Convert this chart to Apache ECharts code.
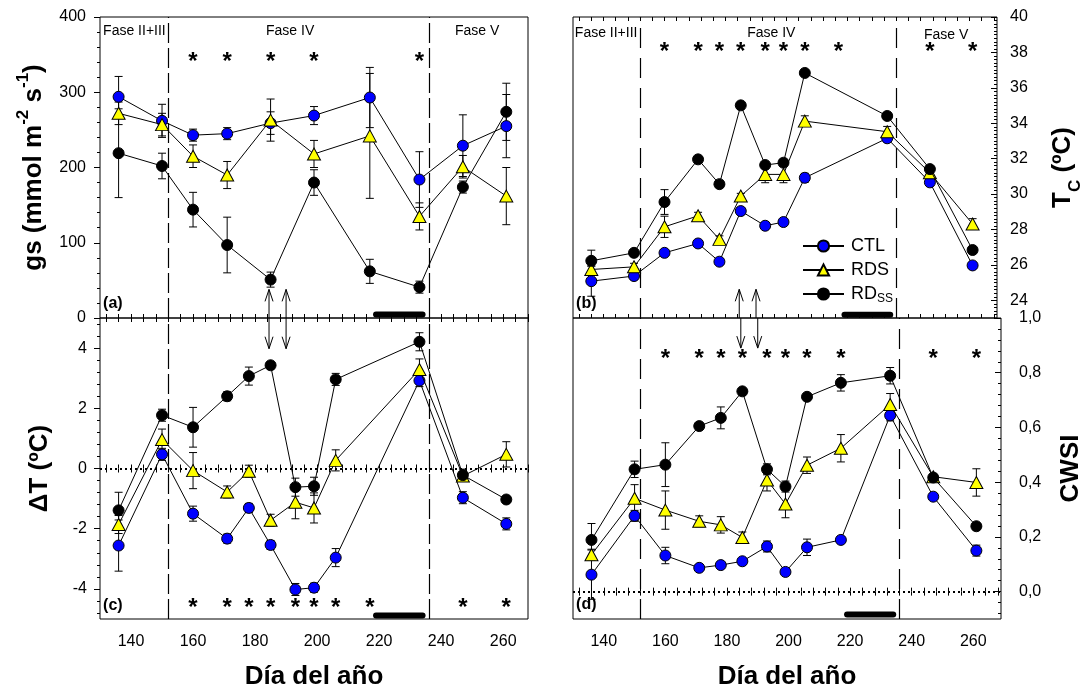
<!DOCTYPE html>
<html><head><meta charset="utf-8">
<script src="https://cdn.jsdelivr.net/npm/echarts@6/dist/echarts.min.js"></script>
<style>html,body{margin:0;padding:0;background:#fff}#c{width:1085px;height:693px}</style>
</head><body><div id="c"></div>
<script>
const FONT = "'Liberation Sans', Arial, sans-serif";

// ---------- data ----------
// Panel (a): gs
const daysA = [136,150,160,171,185,199,217,233,247,261];
const gsCTL     = [294,262,243,245,259,269,293,184,229,255];
const gsCTLerr  = [27,22,8,8,15,12,40,37,41,42];
const gsRDS     = [272,257,215,190,263,218,242,135,201,162];
const gsRDSerr  = [15,15,15,18,28,18,83,18,15,38];
const gsRDSS    = [219,202,144,97,51,180,62,41,174,274];
const gsRDSSerr = [59,17,23,37,10,17,16,8,8,38];

// Panel (b): Tc and panel (c): deltaT
const daysBC = [136,150,160,171,178,185,193,199,206,233,247,261];
const tcCTL     = [25.08,25.37,26.68,27.21,26.18,29.04,28.21,28.42,30.92,33.15,30.66,25.97];
const tcCTLerr  = [0.85,0.2,0.15,0.15,0.15,0.2,0.15,0.15,0.25,0.15,0.15,0.15];
const tcRDS     = [25.74,25.89,28.15,28.77,27.44,29.89,31.11,31.11,34.12,33.52,31.2,28.31];
const tcRDSerr  = [0.2,0.2,0.6,0.2,0.2,0.15,0.47,0.47,0.3,0.3,0.15,0.3];
const tcRDSS    = [26.23,26.68,29.55,31.96,30.56,35.01,31.64,31.77,36.84,34.41,31.41,26.84];
const tcRDSSerr = [0.6,0.2,0.7,0.15,0.2,0.15,0.15,0.2,0.15,0.2,0.15,0.15];

const dtCTL     = [-2.56,0.47,-1.5,-2.33,-1.31,-2.54,-4.02,-3.96,-2.96,2.92,-0.97,-1.84];
const dtCTLerr  = [0.85,0.2,0.25,0.15,0.15,0.15,0.2,0.15,0.3,0.2,0.2,0.2];
const dtRDS     = [-1.86,0.96,-0.07,-0.78,-0.09,-1.72,-1.12,-1.31,0.27,3.29,-0.25,0.47];
const dtRDSerr  = [0.3,0.35,0.6,0.2,0.2,0.2,0.55,0.5,0.35,0.35,0.15,0.42];
const dtRDSS    = [-1.39,1.77,1.37,2.4,3.07,3.43,-0.62,-0.59,2.96,4.21,-0.22,-1.03];
const dtRDSSerr = [0.6,0.2,0.66,0.15,0.3,0.1,0.3,0.3,0.2,0.3,0.2,0.1];

// Panel (d): CWSI
const daysD = [136,150,160,171,178,185,193,199,206,217,233,247,261];
const cwCTL     = [0.062,0.277,0.132,0.087,0.097,0.111,0.165,0.072,0.162,0.189,0.644,0.347,0.15];
const cwCTLerr  = [0.09,0.02,0.03,0.01,0.01,0.01,0.02,0.01,0.03,0.01,0.02,0.01,0.02];
const cwRDS     = [0.135,0.341,0.298,0.257,0.244,0.198,0.408,0.32,0.462,0.524,0.684,0.42,0.399];
const cwRDSerr  = [0.02,0.05,0.07,0.02,0.03,0.02,0.04,0.05,0.03,0.05,0.04,0.01,0.05];
const cwRDSS    = [0.189,0.447,0.464,0.605,0.635,0.732,0.447,0.384,0.712,0.763,0.789,0.417,0.239];
const cwRDSSerr = [0.06,0.03,0.08,0.01,0.04,0.01,0.02,0.02,0.01,0.03,0.03,0.01,0.01];

// significance stars (days)
const starsA = [160,171,185,199,233];
const starsBCD = [160,171,178,185,193,199,206,217,247,261];

// phase boundaries, irrigation bar, arrows (days)
const phaseLines = [152,236];
const barDays = [219,234];
const arrowDays = [184.5,190];

// tick labels
const xLabels = [140,160,180,200,220,240,260];
const gsLabels = [0,100,200,300,400];
const tcLabels = [24,26,28,30,32,34,36,38,40];
const dtLabels = [-4,-2,0,2,4];
const cwLabels = [0,0.2,0.4,0.6,0.8,1.0];

// ---------- helpers ----------
function range(a,b,s){const o=[];for(let k=Math.ceil(a/s-1e-9);k*s<=b+1e-9;k++)o.push(Math.round(k*s*1000)/1000);return o;}
const xTicks = range(130,270,4);

const grids = [
  {left:100, top:17, width:428, height:301},
  {left:573, top:17, width:432, height:301},
  {left:100, top:318, width:428, height:301},
  {left:573, top:318, width:432, height:301}
].map(g=>Object.assign(g,{show:true,borderColor:'#000',borderWidth:1,backgroundColor:'transparent'}));
const xMax = [268,269,268,269];

function xAx(g,pos,labels){
  return {type:'value',gridIndex:g,position:pos,min:130,max:xMax[g],
    axisLine:{show:false},splitLine:{show:false},
    axisTick:{show:true,inside:true,length:4,customValues:xTicks,lineStyle:{color:'#000'}},
    axisLabel:{show:labels,customValues:xLabels,fontSize:16,color:'#000',margin:15,fontFamily:FONT},
    name:labels?'Día del año':'',nameLocation:'middle',nameGap:45,
    nameTextStyle:{fontSize:26,fontWeight:'bold',color:'#000',fontFamily:FONT}};
}
function yMain(g,pos,min,max,labels,fmt,name,nameGap,rich,inside,margin){
  return {type:'value',gridIndex:g,position:pos,min:min,max:max,
    axisLine:{show:false},splitLine:{show:false},
    axisTick:{show:true,inside:inside,length:6,customValues:labels,lineStyle:{color:'#000'}},
    axisLabel:{customValues:labels,formatter:fmt,fontSize:16,color:'#000',margin:margin,fontFamily:FONT},
    name:name,nameLocation:'middle',nameGap:nameGap,nameRotate:90,
    nameTextStyle:{fontSize:26,fontWeight:'bold',color:'#000',fontFamily:FONT,rich:rich}};
}
function yMinor(g,pos,min,max,ticks,inside){
  return {type:'value',gridIndex:g,position:pos,min:min,max:max,
    axisLine:{show:false},splitLine:{show:false},axisLabel:{show:false},
    axisTick:{show:true,inside:inside,length:3,customValues:ticks,lineStyle:{color:'#000'}}};
}

const richBase = {fontSize:26,fontWeight:'bold',fontFamily:FONT,color:'#000'};
const gsRich = {n:Object.assign({},richBase,{verticalAlign:'bottom',lineHeight:32}),
                p:Object.assign({},richBase,{fontSize:17,verticalAlign:'top',lineHeight:32})};
const tcRich = {n:Object.assign({},richBase,{verticalAlign:'top',lineHeight:34}),
                s:Object.assign({},richBase,{fontSize:17,verticalAlign:'bottom',lineHeight:34})};
const plainRich = {n:Object.assign({},richBase)};

const COLORS = {CTL:'#0000ff',RDS:'#ffff00',RDss:'#000000'};
function lineS(name,g,yi,days,vals,z){
  return {type:'line',name:name,xAxisIndex:g,yAxisIndex:yi,z:z,
    data:days.map((d,i)=>[d,vals[i]]),
    symbol:name==='RDS'?'triangle':'circle',symbolSize:name==='RDS'?[13,12]:11,
    itemStyle:{color:COLORS[name],borderColor:'#000',borderWidth:1},
    lineStyle:{color:'#000',width:1},emphasis:{disabled:true},silent:true};
}
function errS(g,yi,days,vals,errs){
  return {type:'custom',xAxisIndex:g,yAxisIndex:yi,z:1,silent:true,
    data:days.map((d,i)=>[d,vals[i],errs[i]]),
    renderItem:(p,api)=>{
      const x=api.value(0),v=api.value(1),e=api.value(2);
      const a=api.coord([x,v+e]),b=api.coord([x,v-e]);const w=4;
      const st={stroke:'#000',lineWidth:1};
      return {type:'group',children:[
        {type:'line',shape:{x1:a[0],y1:a[1],x2:b[0],y2:b[1]},style:st},
        {type:'line',shape:{x1:a[0]-w,y1:a[1],x2:a[0]+w,y2:a[1]},style:st},
        {type:'line',shape:{x1:b[0]-w,y1:b[1],x2:b[0]+w,y2:b[1]},style:st}]};
    }};
}
function textS(g,yi,items){
  return {type:'custom',xAxisIndex:g,yAxisIndex:yi,z:10,silent:true,
    data:items.map((it,i)=>[it.x,it.y,i]),
    renderItem:(p,api)=>{
      const it=items[api.value(2)];const c=api.coord([api.value(0),api.value(1)]);
      return {type:'text',x:c[0],y:c[1]+(it.dy||0),
        style:{text:it.t,fontSize:it.s,fontWeight:it.w||'normal',fontFamily:FONT,fill:'#000',
               align:it.a||'center',verticalAlign:'middle'}};
    }};
}
function arrowS(g,yi,tip,end){
  return {type:'custom',xAxisIndex:g,yAxisIndex:yi,z:10,silent:true,
    data:arrowDays.map(d=>[d,tip,end]),
    renderItem:(p,api)=>{
      const t=api.coord([api.value(0),api.value(1)]),e=api.coord([api.value(0),api.value(2)]);
      const dir=e[1]>t[1]?1:-1;const st={stroke:'#000',lineWidth:1,fill:null};
      return {type:'group',children:[
        {type:'line',shape:{x1:t[0],y1:t[1],x2:e[0],y2:e[1]},style:st},
        {type:'polyline',shape:{points:[[t[0]-4,t[1]+dir*12],[t[0],t[1]],[t[0]+4,t[1]+dir*12]]},style:st}]};
    }};
}
function barS(g,yi,yv,dash,zero){
  const ml=phaseLines.map(v=>({xAxis:v,lineStyle:{type:dash,color:'#000',width:1.2}}));
  if(zero) ml.push({yAxis:0,lineStyle:{type:[2,3],color:'#000',width:2}});
  return {type:'line',xAxisIndex:g,yAxisIndex:yi,z:3,silent:true,symbol:'none',
    data:barDays.map(d=>[d,yv]),lineStyle:{width:6,color:'#000',cap:'round'},
    markLine:{silent:true,symbol:'none',label:{show:false},data:ml}};
}
function starItems(days,y){return days.map(d=>({x:d,y:y,t:'*',s:24,w:'bold',dy:6}));}

const series = [
  // (a)
  barS(0,0,4.65,[20,5],false),
  errS(0,0,daysA,gsCTL,gsCTLerr),errS(0,0,daysA,gsRDS,gsRDSerr),errS(0,0,daysA,gsRDSS,gsRDSSerr),
  lineS('CTL',0,0,daysA,gsCTL,4),lineS('RDS',0,0,daysA,gsRDS,5),lineS('RDss',0,0,daysA,gsRDSS,6),
  arrowS(0,0,38,0),
  textS(0,0,starItems(starsA,348).concat([
    {x:131,y:381,t:'Fase II+III',s:14,a:'left'},{x:191.3,y:381,t:'Fase IV',s:14},{x:251.6,y:381,t:'Fase V',s:14},
    {x:131,y:19,t:'(a)',s:16,w:'bold',a:'left'}])),
  // (b)
  barS(1,2,23.19,[20,10],false),
  errS(1,2,daysBC,tcCTL,tcCTLerr),errS(1,2,daysBC,tcRDS,tcRDSerr),errS(1,2,daysBC,tcRDSS,tcRDSSerr),
  lineS('CTL',1,2,daysBC,tcCTL,4),lineS('RDS',1,2,daysBC,tcRDS,5),lineS('RDss',1,2,daysBC,tcRDSS,6),
  arrowS(1,2,24.62,23),
  textS(1,2,starItems(starsBCD,38.32).concat([
    {x:130.6,y:39.1,t:'Fase II+III',s:14,a:'left'},{x:195,y:39.1,t:'Fase IV',s:14},{x:252.3,y:39.0,t:'Fase V',s:14},
    {x:131,y:23.8,t:'(b)',s:16,w:'bold',a:'left'}])),
  // (c)
  barS(2,4,-4.88,[20,5],true),
  errS(2,4,daysBC,dtCTL,dtCTLerr),errS(2,4,daysBC,dtRDS,dtRDSerr),errS(2,4,daysBC,dtRDSS,dtRDSSerr),
  lineS('CTL',2,4,daysBC,dtCTL,4),lineS('RDS',2,4,daysBC,dtRDS,5),lineS('RDss',2,4,daysBC,dtRDSS,6),
  arrowS(2,4,3.98,5),
  textS(2,4,starItems(starsBCD,-4.46).concat([{x:131,y:-4.55,t:'(c)',s:16,w:'bold',a:'left'}])),
  // (d)
  barS(3,6,-0.0836,[20,10],true),
  errS(3,6,daysD,cwCTL,cwCTLerr),errS(3,6,daysD,cwRDS,cwRDSerr),errS(3,6,daysD,cwRDSS,cwRDSSerr),
  lineS('CTL',3,6,daysD,cwCTL,4),lineS('RDS',3,6,daysD,cwRDS,5),lineS('RDss',3,6,daysD,cwRDSS,6),
  arrowS(3,6,0.89,1.0),
  textS(3,6,starItems(starsBCD,0.872).concat([{x:131,y:-0.048,t:'(d)',s:16,w:'bold',a:'left'}]))
];

const option = {
  animation:false,
  grid:grids,
  xAxis:[xAx(0,'bottom',false),xAx(1,'bottom',false),xAx(2,'bottom',true),xAx(3,'bottom',true),
         xAx(0,'top',false),xAx(1,'top',false),xAx(2,'top',false),xAx(3,'top',false)],
  yAxis:[
    yMain(0,'left',0,400,gsLabels,v=>String(v),'{n|gs (mmol m}{p|-2}{n| s}{p|-1}{n|)}',53,gsRich,false,14),
    yMinor(0,'left',0,400,range(0,400,20),false),
    yMain(1,'right',23,40,tcLabels,v=>String(v),'{n|T}{s|C}{n| (ºC)}',53,tcRich,true,13),
    yMinor(1,'right',23,40,range(23,40,0.2),true),
    yMain(2,'left',-5,5,dtLabels,v=>String(v),'{n|ΔT (ºC)}',47,plainRich,false,13),
    yMinor(2,'left',-5,5,range(-5,5,0.4),false),
    yMain(3,'right',-0.1,1.0,cwLabels,v=>v.toFixed(1).replace('.',','),'{n|CWSI}',57,plainRich,true,18),
    yMinor(3,'right',-0.1,1.0,range(-0.1,1.0,0.04),true)
  ],
  legend:{data:['CTL','RDS','RDss'],orient:'vertical',left:797,top:232,itemWidth:41,itemHeight:14,itemGap:6,
    selectedMode:false,
    formatter:n=>n==='RDss'?'{m|RD}{s|SS}':'{m|'+n+'}',
    textStyle:{color:'#000',fontSize:18,fontFamily:FONT,padding:[0,0,0,2],
      rich:{m:{fontSize:18,fontFamily:FONT,color:'#000'},s:{fontSize:12,fontFamily:FONT,color:'#000',padding:[10,0,0,0]}}}},
  series:series
};
const chart = echarts.init(document.getElementById('c'),null,{renderer:'canvas'});
chart.setOption(option);
</script></body></html>
